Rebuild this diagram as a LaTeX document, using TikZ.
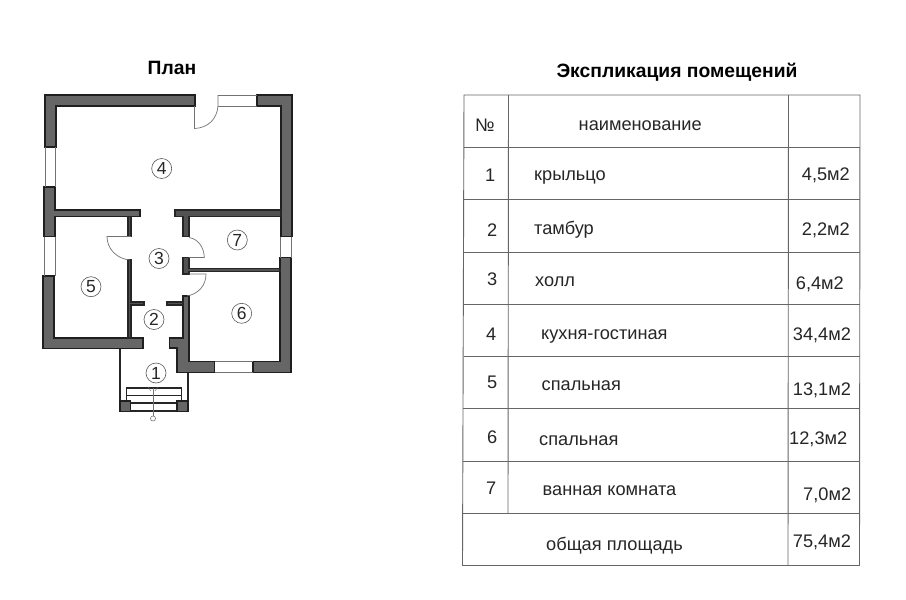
\documentclass[tikz,border=0pt]{standalone}
\usepackage{fontspec}
\setmainfont{Liberation Sans}
\tikzset{
  wall/.style={draw=black!88,line width=1.9pt,fill=black!60},
  thin wall/.style={draw=black!85,line width=1.2pt,fill=black!68},
  fine/.style={draw=black!55,line width=0.7pt},
  porch/.style={draw=black!85,line width=1.1pt},
  roomno/.style={circle,draw=black!65,line width=0.6pt,minimum size=20pt,inner sep=0pt,font=\fontsize{17.5}{17}\selectfont,text=black!85},
  tline/.style={draw=black!60,line width=0.9pt},
  cell/.style={font=\fontsize{18.2}{18}\selectfont,text=black!85,inner sep=0pt,anchor=base west},
  title/.style={font=\bfseries\fontsize{19.3}{18}\selectfont,inner sep=0pt,anchor=base}
}
\begin{document}
\begin{tikzpicture}[x=1pt,y=-1pt]
\useasboundingbox (0,0) rectangle (906,600);
\fill[white] (0,0) rectangle (906,600);
% titles
\node[title] (tplan) at (172,74) {План};
\node[title] (texpl) at (677,77) {Экспликация помещений};
% outer walls
\draw[wall] (195,95)--(45,95)--(45,147)--(56,147)--(56,106)--(195,106)--cycle;
\draw[wall] (257,95)--(292,95)--(292,236.5)--(281,236.5)--(281,106)--(257,106)--cycle;
\draw[wall] (44,187)--(55,187)--(55,210)--(140,210)--(140,216.5)--(55,216.5)--(55,236.5)--(44,236.5)--cycle;
\draw[wall] (43,276)--(54,276)--(54,338)--(143,338)--(143,348.5)--(43,348.5)--cycle;
\draw[wall] (280,257.5)--(291,257.5)--(291,372.5)--(253,372.5)--(253,361.5)--(280,361.5)--cycle;
\draw[wall] (183,296)--(189,296)--(189,361.5)--(214.5,361.5)--(214.5,372.5)--(177,372.5)--(177,348)--(169.5,348)--(169.5,338)--(183,338)--cycle;
% partitions
\draw[thin wall] (175,210)--(281,210)--(281,216.5)--(189,216.5)--(189,236.5)--(183,236.5)--(183,216.5)--(175,216.5)--cycle;
\draw[thin wall] (128,216.5)--(131,216.5)--(131,236.5)--(128,236.5)--cycle;
\draw[thin wall] (183,257.5)--(189,257.5)--(189,268.5)--(280,268.5)--(280,271.5)--(189,271.5)--(189,274)--(183,274)--cycle;
\draw[thin wall] (128,260)--(131,260)--(131,302)--(144,302)--(144,305)--(131,305)--(131,338)--(128,338)--cycle;
\draw[thin wall] (167,302)--(183,302)--(183,305)--(167,305)--cycle;
% windows
\draw[fine] (45,147)--(45,187) (55,147)--(55,187);
\draw[fine] (44.5,236.5)--(44.5,276) (55,236.5)--(55,276);
\draw[fine] (280.5,236.5)--(280.5,257.5) (291,236.5)--(291,257.5);
\draw[fine] (214.5,361.5)--(253,361.5) (214.5,372.5)--(253,372.5);
\draw[fine] (218,95)--(257,95) (218,106)--(257,106);
% doors
\draw[fine] (218,95)--(218,106) .. controls (217,119) and (208,128) .. (194.5,128.5)--(194.5,106);
\draw[fine] (131,236.5)--(107,236.5) .. controls (107,249) and (117,259) .. (130,260);
\draw[fine] (189,237.5) .. controls (198,239) and (204,247) .. (204.3,257.5)--(189,257.5);
\draw[fine] (189,274)--(206,274) .. controls (206,286) and (198,294) .. (187,296);
% porch
\draw[porch] (120,349)--(120,401) (188,373)--(188,401);
\draw[porch] (126.7,401)--(126.7,388)--(181.5,388)--(181.5,401) (126.7,395.7)--(181.5,395.7) (130.5,403)--(177,403) (130.5,411)--(177,411);
\draw[wall,line width=1.4pt] (120,401)--(130.5,401)--(130.5,411.5)--(120,411.5)--cycle;
\draw[wall,line width=1.4pt] (177,401)--(188,401)--(188,411.5)--(177,411.5)--cycle;
% axis
\node[circle,draw=black!60,line width=0.5pt,minimum size=5pt,inner sep=0pt] (ax) at (153,418.5) {};
\coordinate (axtop) at (153,388);
\draw[fine] (axtop)--(ax);
\draw[fine,line width=0.4pt] (148,387)--(151,391) (158,387)--(155,391);
% room numbers
\node[roomno] (r1) at (156,373) {1};
\node[roomno] (r2) at (154,319.5) {2};
\node[roomno] (r3) at (159,258.5) {3};
\node[roomno] (r4) at (161.7,168.5) {4};
\node[roomno] (r5) at (91,286.7) {5};
\node[roomno] (r6) at (241.7,313.3) {6};
\node[roomno] (r7) at (237.3,240) {7};
% table
\draw[tline] (464,95)--(860,95)--(859.5,565.5)--(462.5,565.5)--cycle;
\draw[tline] (508.5,95)--(508,513) (788.5,95)--(788,565.5);
\foreach \yy/\xl in {147/464,199.5/464,252/463.5,304/463.5,356/463.5,408/463,461/463,513/463}
  \draw[tline] (\xl,\yy)--(860,\yy);
% cells
\node[cell] (h0) at (475,131.7) {№};
\node[cell] (h1) at (578.5,130) {наименование};
\foreach \nm/\xx/\yy/\tx in {
  a1/485/181.7/1,a2/487/236.7/2,a3/487/285/3,a4/486/340/4,a5/487/388/5,a6/487/443/6,a7/486/494/7,
  b1/534/180/крыльцо,b2/534/234/тамбур,b3/535/286.7/холл,b4/541/339.3/кухня-гостиная,
  b5/541.5/390.7/спальная,b6/539/445/спальная,b7/542.5/495/ванная комната,b8/546/550/общая площадь,
  c1/801.7/180/{4,5м2},c2/801.7/235.7/{2,2м2},c3/795.7/289/{6,4м2},c4/792.7/340.7/{34,4м2},
  c5/792.7/395/{13,1м2},c6/789/444/{12,3м2},c7/803/500/{7,0м2},c8/792.7/547.3/{75,4м2}}
  \node[cell] (\nm) at (\xx,\yy) {\tx};
\end{tikzpicture}
\end{document}
